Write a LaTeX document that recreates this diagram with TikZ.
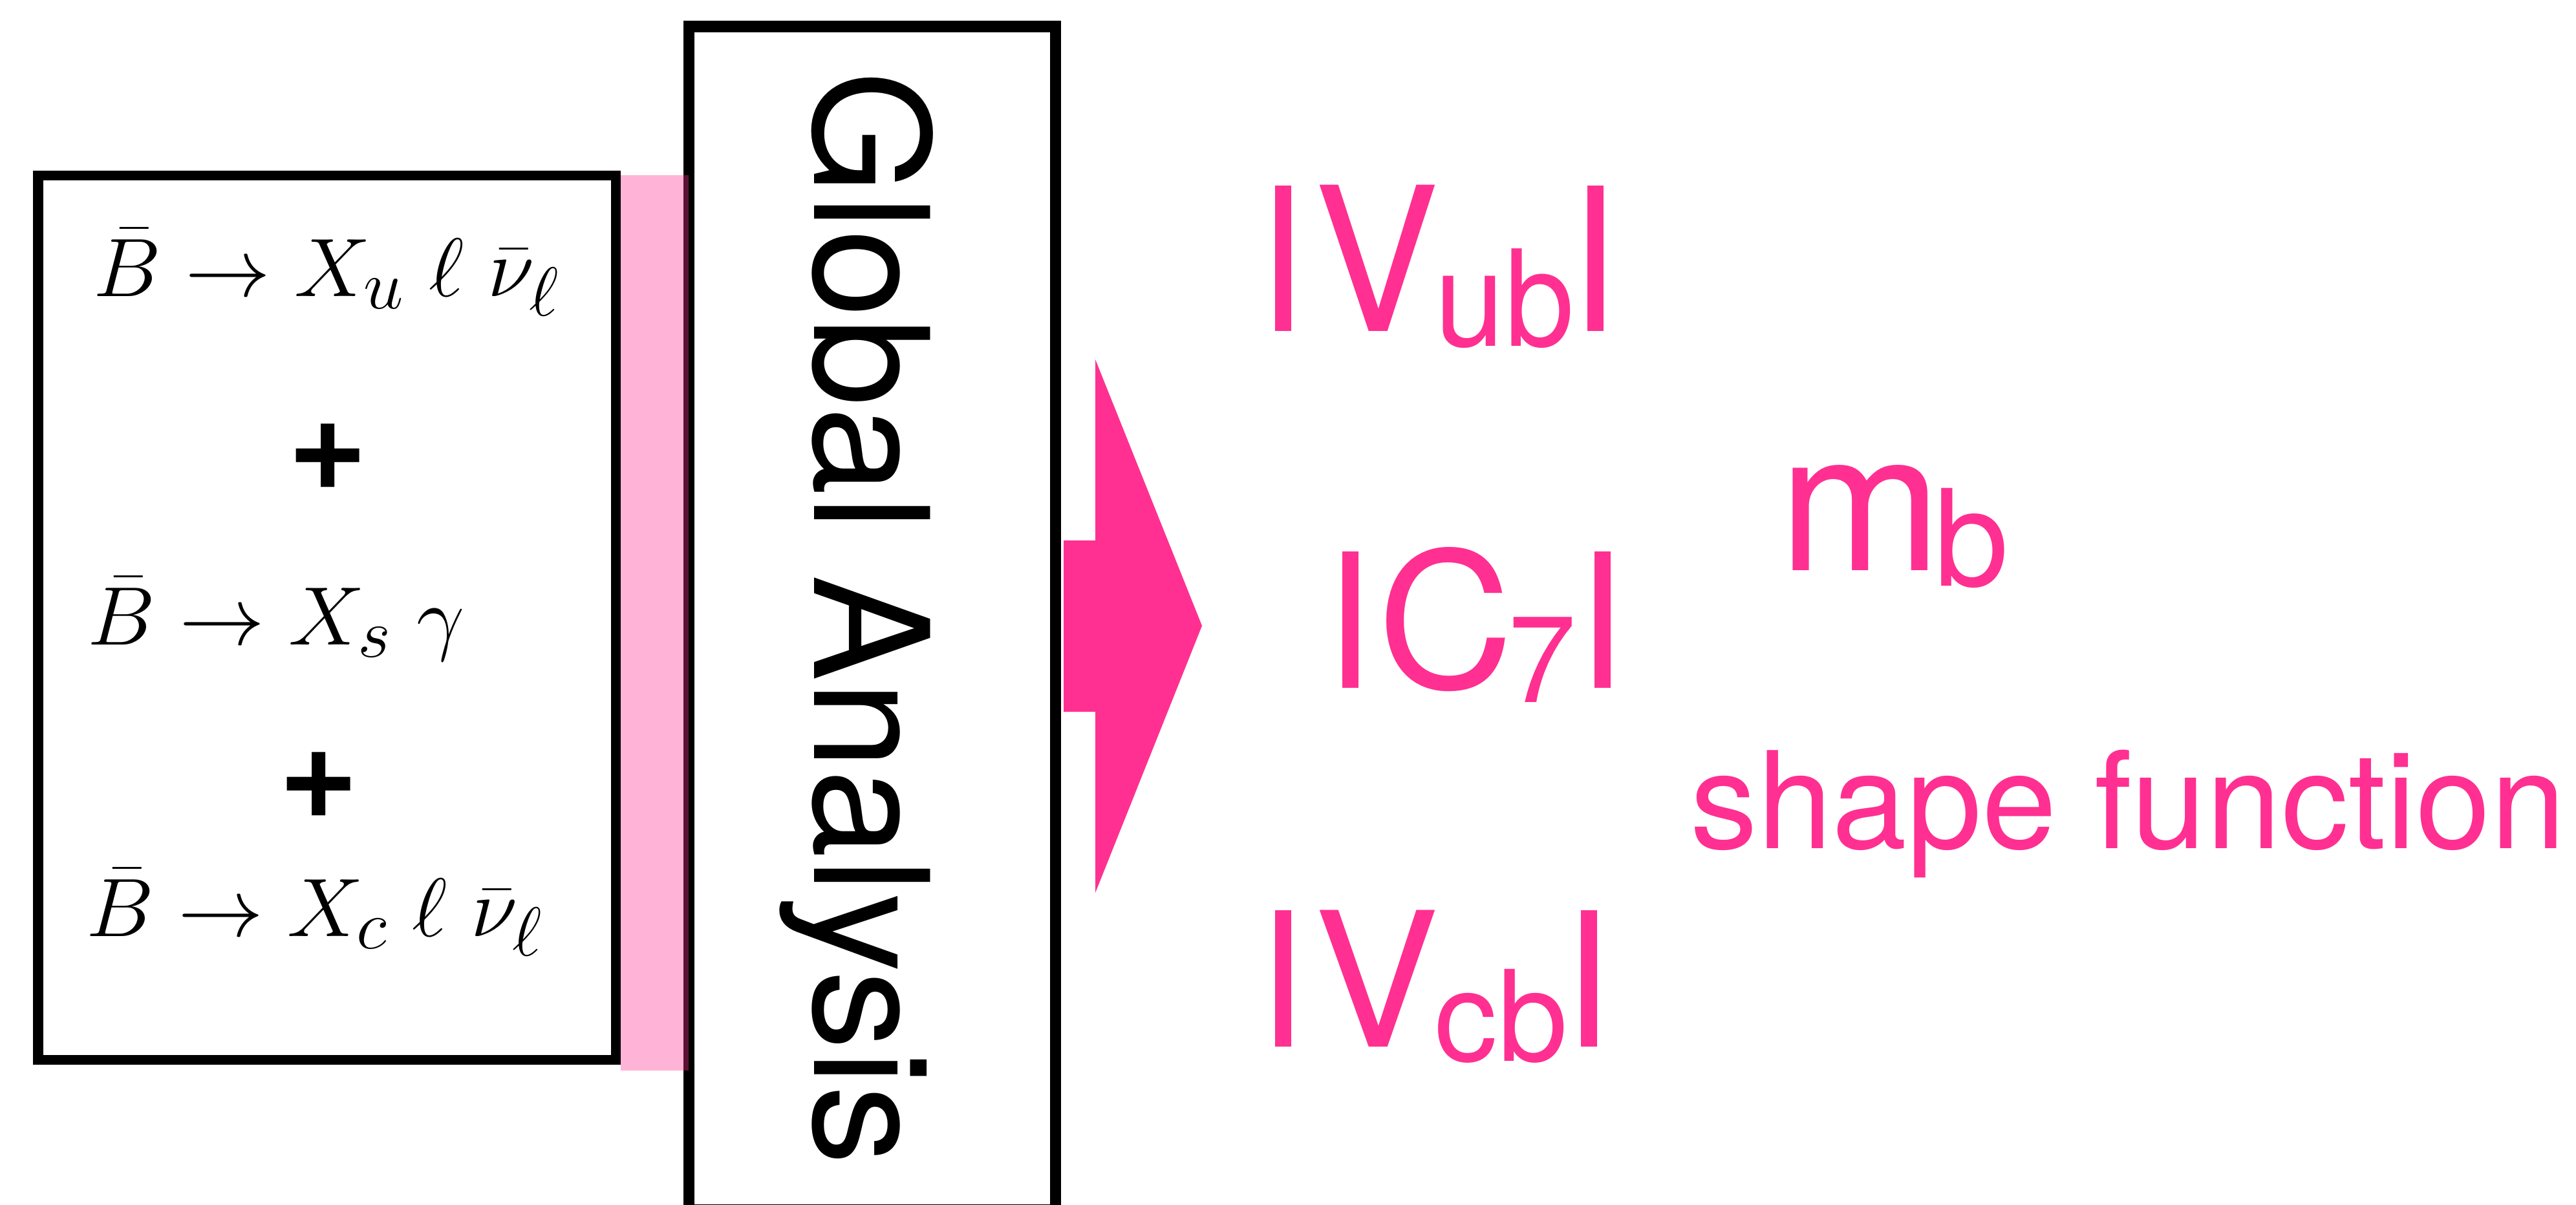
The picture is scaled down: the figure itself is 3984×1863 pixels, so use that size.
\documentclass[tikz,border=0pt]{standalone}
\usepackage[no-math]{fontspec}
\setmainfont{TeX Gyre Heros}
\definecolor{hot}{RGB}{255,48,145}
\newdimen\px \px=0.284528pt
\newcommand{\absbar}[1]{\rule{25\px}{#1\px}}
\newcommand{\subsz}[1]{\fontsize{#1}{#1}\selectfont}
\newcommand{\bigmath}[1]{\scalebox{1.511}[1.467]{\fontsize{24.88}{30}\selectfont$#1$}}
\tikzset{
  pinklabel/.style={text=hot, inner sep=0pt, outer sep=0pt, anchor=base west,
    font=\fontsize{82.5}{90}\selectfont},
  eqn/.style={inner sep=0pt, anchor=base west},
  plus/.style={inner sep=0pt, anchor=center, font=\bfseries\fontsize{60}{60}\selectfont},
  frame/.style={draw=black, line width=17\px},
}
\begin{document}
\begin{tikzpicture}[x=0.01cm, y=-0.01cm]
\useasboundingbox (0,0) rectangle (3984,1863);
% left box
\draw[draw=black, line width=15\px] (59,271) rectangle (952,1639);
\node[eqn] (l1) at (144,458) {\bigmath{\bar B \to X_u\;\ell\;\bar\nu_\ell}};
\node[plus] (p1) at (507,707) {+};
\node[eqn] (l2) at (135,997) {\bigmath{\bar B \to X_s\;\gamma}};
\node[plus] (p2) at (493,1215) {+};
\node[eqn] (l3) at (133,1448) {\bigmath{\bar B \to X_c\;\ell\;\bar\nu_\ell}};
% global analysis box
\draw[frame] (1065.5,41) rectangle (1632.5,1871);
\node[inner sep=0pt, anchor=base, rotate=-90, font=\fontsize{70}{80}\selectfont] (ga) at (1259,956) {Global Analysis};
% translucent pink strip (drawn over the frame edge)
\fill[hot, opacity=0.36] (960,271) rectangle (1065,1656);
% block arrow
\fill[hot] (1645,836) -- (1694,836) -- (1694,556) -- (1859,968) -- (1694,1381)
  -- (1694,1101) -- (1645,1101) -- cycle;
% results
\node[pinklabel] (vub) at (1972,512) {\scalebox{1}[1.07]{\absbar{210}\kern35\px V\kern-6\px\raisebox{-22\px}{\subsz{55}ub}\kern20\px\absbar{210}}};
\node[pinklabel, font=\fontsize{83}{90}\selectfont] (c7) at (2076,1064) {\absbar{211}\kern29\px C\kern-8\px\raisebox{-22\px}{\subsz{54}7}\kern28\px\absbar{211}};
\node[pinklabel] (vcb) at (1972,1619) {\absbar{211}\kern35\px V\kern-7\px\raisebox{-22\px}{\subsz{55.5}cb}\kern20\px\absbar{211}};
\node[pinklabel, font=\fontsize{86}{90}\selectfont] (mb) at (2751,882) {m\kern-11\px\raisebox{-24\px}{\subsz{59}b}};
\node[pinklabel, font=\fontsize{59.2}{65}\selectfont] (sf) at (2614,1312) {shape function};
\end{tikzpicture}
\end{document}
